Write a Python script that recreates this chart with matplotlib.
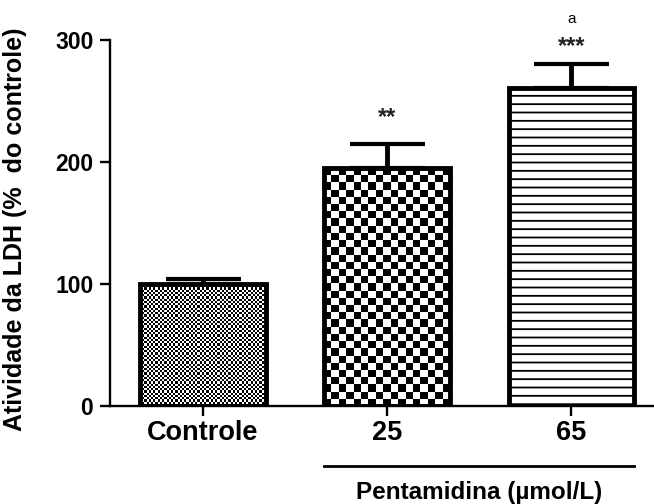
import numpy as np
import matplotlib
matplotlib.use('Agg')
import matplotlib.pyplot as plt
from matplotlib.transforms import blended_transform_factory

# LDH activity, mean and upper SEM
groups = ['Controle', '25', '65']
means = [100, 195, 261]
sems = [4, 20, 19]
signif = ['', '**', '***']
letters = ['', '', 'a']
groupLabel = 'Pentamidina (\u00b5mol/L)'
yLabel = 'Atividade da LDH (%  do controle)'
yTicks = [0, 100, 200, 300]

plt.rcParams['font.family'] = ['Liberation Sans', 'DejaVu Sans']
plt.rcParams['font.weight'] = 'bold'
plt.rcParams['axes.labelweight'] = 'bold'
plt.rcParams['hatch.linewidth'] = 1.3

W, H, DPI = 654, 504, 100
fig = plt.figure(figsize=(W / DPI, H / DPI), dpi=DPI)
axLeft, axRight, axBottom, axTop = 110, 654, 406, 40
ax = fig.add_axes([axLeft / W, 1 - axBottom / H,
                   (axRight - axLeft) / W, (axBottom - axTop) / H])

xs = np.arange(len(groups))
barWidth = 0.68
xlim = (-0.505, 2.45)
ylim = (0, 300)
ax.set_xlim(*xlim)
ax.set_ylim(*ylim)

pxPerX = (axRight - axLeft) / (xlim[1] - xlim[0])
pxPerY = (axBottom - axTop) / (ylim[1] - ylim[0])


def checker(ax, bar, cellPx):
    # fill a bar with a black/white checkerboard, clipped to the bar outline
    x0, y0 = bar.get_x(), bar.get_y()
    w, h = bar.get_width(), bar.get_height()
    nx = max(1, int(round(w * pxPerX / cellPx)))
    ny = max(1, int(round(h * pxPerY / cellPx)))
    grid = (np.add.outer(np.arange(ny), np.arange(nx)) % 2).astype(float)
    im = ax.imshow(grid, cmap='gray', vmin=0, vmax=1, interpolation='nearest',
                   extent=(x0, x0 + w, y0, y0 + h), aspect='auto', zorder=1,
                   origin='lower')
    im.set_clip_path(bar)


bars = ax.bar(xs, means, barWidth, color='white', edgecolor='black',
              linewidth=3.5, zorder=2)
bars[0].set_facecolor('none')
bars[1].set_facecolor('none')
bars[2].set_hatch('--')
checker(ax, bars[0], 2.2)
checker(ax, bars[1], 7.2)

ax.errorbar(xs, means, yerr=[np.zeros(len(sems)), sems], fmt='none',
            ecolor='black', elinewidth=3.5, capsize=27, capthick=3, zorder=3)

# significance marks above the error bars
starOffsets = [0, 19, 13]
for x, m, s, star, let, off in zip(xs, means, sems, signif, letters, starOffsets):
    top = m + s
    if star:
        ax.annotate(star, (x, top), xytext=(0, off), textcoords='offset points',
                    ha='center', va='center', fontsize=17, fontweight='bold',
                    color='#222222')
    if let:
        ax.annotate(let, (x, top), xytext=(0, 33), textcoords='offset points',
                    ha='center', va='center', fontsize=11, fontweight='normal')

for side in ['top', 'right']:
    ax.spines[side].set_visible(False)
for side in ['left', 'bottom']:
    ax.spines[side].set_linewidth(1.7)

ax.set_yticks(yTicks)
ax.set_xticks(xs)
ax.set_xticklabels(groups, fontsize=19.5)
ax.tick_params(axis='y', labelsize=16.5, width=1.7, length=7, pad=5)
ax.tick_params(axis='x', width=1.7, length=7, pad=3)
ax.set_ylabel(yLabel, fontsize=18)
ax.yaxis.set_label_coords(-0.153, 0.484)

# bracket line under the treated groups
trans = blended_transform_factory(ax.transData, ax.transAxes)
lineL = xs[1] - barWidth / 2
lineR = xs[2] + barWidth / 2
ax.plot([lineL, lineR], [-0.164, -0.164], color='black', linewidth=2,
        transform=trans, clip_on=False)
ax.text((lineL + lineR) / 2, -0.235, groupLabel, transform=trans,
        ha='center', va='center', fontsize=17.5)

fig.savefig('out.png', dpi=DPI)
